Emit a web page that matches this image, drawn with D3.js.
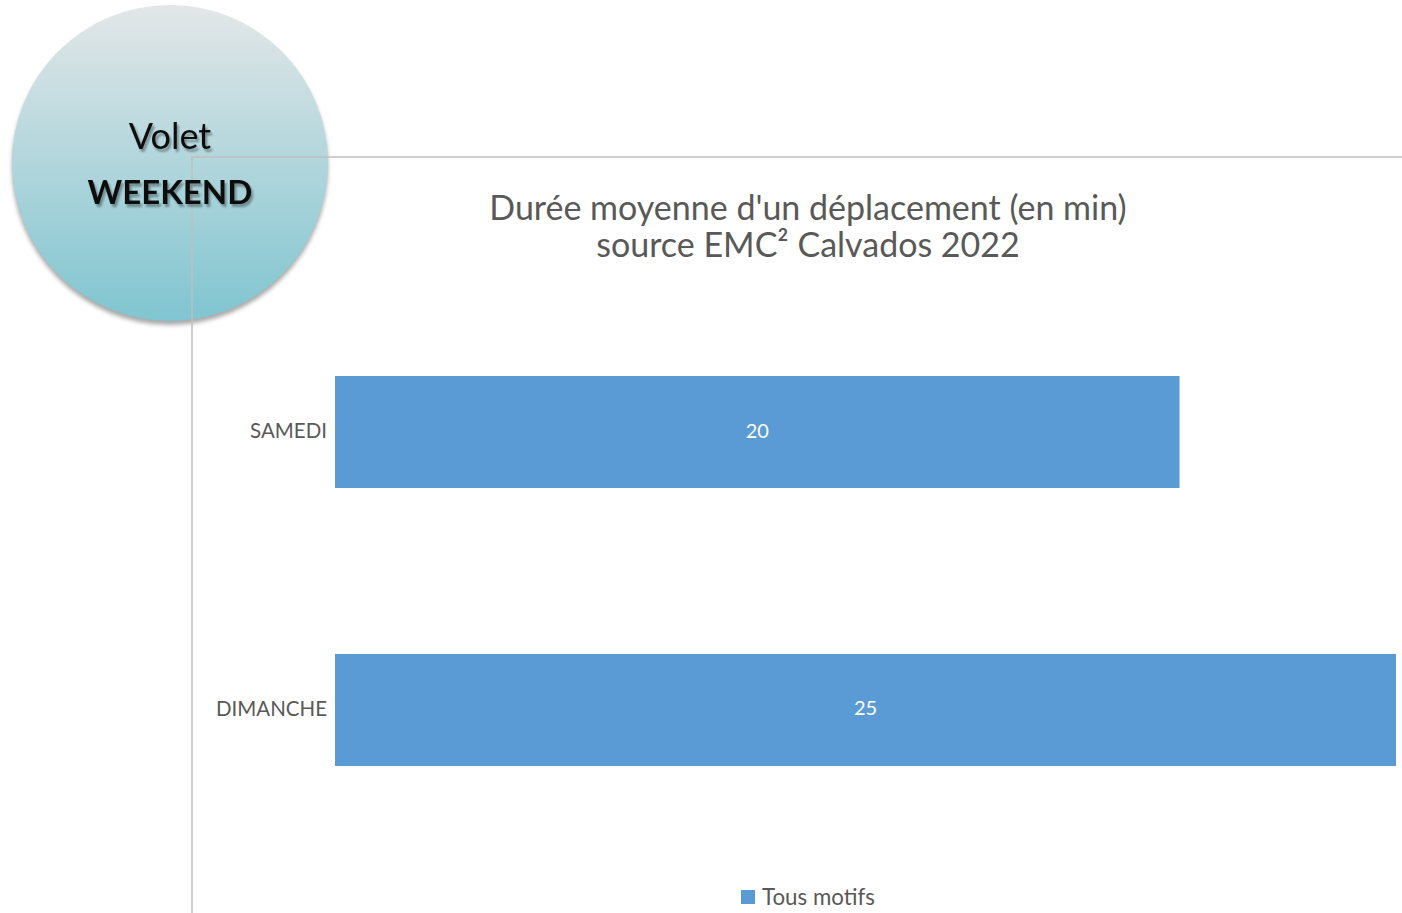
<!DOCTYPE html>
<html>
<head>
<meta charset="utf-8">
<script src="https://cdn.jsdelivr.net/npm/d3@7"></script>
<style>
  html, body { margin: 0; padding: 0; background: #fff; }
  svg { display: block; font-family: Lato, "Open Sans", sans-serif; }
</style>
</head>
<body>
<svg id="chart" width="1402" height="913"></svg>
<script>
(function() {
    'use strict';

    // data
    var categories = ['SAMEDI', 'DIMANCHE'];
    var values = [19.9, 25.0];
    var seriesName = 'Tous motifs';
    var titleLines = ["Durée moyenne d'un déplacement (en min)", 'source EMC² Calvados 2022'];

    var svg = d3.select('#chart');
    var defs = svg.append('defs');

    /******************************************************************
        badge circle
     ******************************************************************/
    var grad = defs.append('linearGradient')
        .attr('id', 'badgeGrad')
        .attr('x1', 0).attr('y1', 0).attr('x2', 0).attr('y2', 1);
    grad.append('stop').attr('offset', '0%').attr('stop-color', '#e3e7e8');
    grad.append('stop').attr('offset', '100%').attr('stop-color', '#7fc5d0');

    var blur = defs.append('filter').attr('id', 'soft')
        .attr('x', '-20%').attr('y', '-20%').attr('width', '140%').attr('height', '140%');
    blur.append('feGaussianBlur').attr('stdDeviation', 2);

    var txtShadow = defs.append('filter').attr('id', 'txtShadow')
        .attr('x', '-10%').attr('y', '-30%').attr('width', '120%').attr('height', '160%');
    txtShadow.append('feGaussianBlur').attr('in', 'SourceAlpha').attr('stdDeviation', 0.8).attr('result', 'b');
    txtShadow.append('feOffset').attr('in', 'b').attr('dx', 1.5).attr('dy', 2.5).attr('result', 'o');
    txtShadow.append('feComponentTransfer').attr('in', 'o').attr('result', 'c')
        .append('feFuncA').attr('type', 'linear').attr('slope', 0.35);
    var merge = txtShadow.append('feMerge');
    merge.append('feMergeNode').attr('in', 'c');
    merge.append('feMergeNode').attr('in', 'SourceGraphic');

    var cx = 170, cy = 163, r = 158;
    svg.append('circle')
        .attr('cx', cx).attr('cy', cy + 4).attr('r', r)
        .attr('fill', '#a9a9a9')
        .attr('filter', 'url(#soft)');
    svg.append('circle')
        .attr('cx', cx).attr('cy', cy).attr('r', r)
        .attr('fill', 'url(#badgeGrad)');

    // frame lines (over the badge, under its text)
    svg.append('path')
        .attr('d', 'M1402 157 H192 V913')
        .attr('fill', 'none')
        .attr('stroke', '#bfbfbf')
        .attr('stroke-opacity', 0.75)
        .attr('stroke-width', 2);

    svg.append('text')
        .attr('x', cx).attr('y', 149)
        .attr('text-anchor', 'middle')
        .attr('font-size', 36)
        .attr('fill', '#111')
        .attr('filter', 'url(#txtShadow)')
        .text('Volet');
    svg.append('text')
        .attr('x', cx).attr('y', 204)
        .attr('text-anchor', 'middle')
        .attr('font-size', 33)
        .attr('font-weight', 'bold')
        .attr('fill', '#111')
        .attr('filter', 'url(#txtShadow)')
        .text('WEEKEND');

    /******************************************************************
        chart
     ******************************************************************/
    var title = svg.append('text')
        .attr('text-anchor', 'middle')
        .attr('font-size', 34)
        .attr('fill', '#595959');
    title.selectAll('tspan')
        .data(titleLines)
        .enter().append('tspan')
        .attr('x', 808)
        .attr('y', function(d, i) { return 220 + i * 37; })
        .text(function(d) { return d; });

    var x = d3.scaleLinear()
        .domain([0, 25])
        .range([335, 1396]);

    var y = d3.scaleBand()
        .domain(categories)
        .range([292.6, 849.4])
        .paddingInner(0.597)
        .paddingOuter(0.3);

    var rows = categories.map(function(c, i) { return { cat: c, val: values[i] }; });

    svg.append('g').selectAll('rect')
        .data(rows)
        .enter().append('rect')
        .attr('x', x(0))
        .attr('y', function(d) { return y(d.cat); })
        .attr('width', function(d) { return x(d.val) - x(0); })
        .attr('height', y.bandwidth())
        .attr('fill', '#5b9bd5');

    svg.append('g').selectAll('text')
        .data(rows)
        .enter().append('text')
        .attr('x', function(d) { return (x(0) + x(d.val)) / 2; })
        .attr('y', function(d) { return y(d.cat) + y.bandwidth() / 2 - 1.5; })
        .attr('dy', '0.35em')
        .attr('text-anchor', 'middle')
        .attr('font-size', 20)
        .attr('fill', '#fff')
        .text(function(d) { return d3.format('.0f')(d.val); });

    var yAxis = svg.append('g')
        .attr('transform', 'translate(' + x(0) + ',-1)')
        .call(d3.axisLeft(y).tickSize(0).tickPadding(8));
    yAxis.select('.domain').remove();
    yAxis.selectAll('text')
        .attr('font-family', 'Lato, "Open Sans", sans-serif')
        .attr('font-size', 20.5)
        .attr('fill', '#595959');

    // legend
    var legend = svg.append('g').attr('transform', 'translate(741,890)');
    legend.append('rect')
        .attr('width', 14).attr('height', 14)
        .attr('fill', '#5b9bd5');
    legend.append('text')
        .attr('x', 21).attr('y', 7)
        .attr('dy', '0.35em')
        .attr('font-size', 22.3)
        .attr('fill', '#595959')
        .text(seriesName);
})();
</script>
</body>
</html>
